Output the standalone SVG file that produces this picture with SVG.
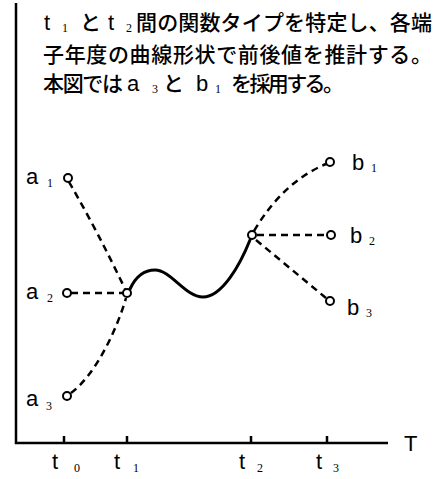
<svg xmlns="http://www.w3.org/2000/svg" width="437" height="479" viewBox="0 0 437 479">
<style>
.jp{font-family:"Noto Sans CJK JP","Noto Sans CJK SC",sans-serif;font-size:21px;font-weight:500;fill:#000}
.lt{font-family:"Liberation Sans",Arial,sans-serif;font-size:22px;fill:#000}
.sub{font-family:"Liberation Serif","Times New Roman",serif;font-size:12px;fill:#000}
.axis{stroke:#000;stroke-width:2.5;fill:none}
.dash{stroke:#000;stroke-width:2.5;fill:none;stroke-dasharray:7 5}
.solid{stroke:#000;stroke-width:3;fill:none;stroke-linecap:round}
.pt{stroke:#000;stroke-width:2;fill:#fff}
</style>
<g id="caption">
<text class="lt" x="44" y="30">t</text><text class="sub" x="62" y="32">1</text>
<text class="jp" x="80" y="30">と</text>
<text class="lt" x="108" y="30">t</text><text class="sub" x="126" y="32">2</text>
<text class="jp" x="136" y="30" textLength="296" lengthAdjust="spacing">間の関数タイプを特定し、各端</text>
<text class="jp" x="43" y="62" textLength="389" lengthAdjust="spacing">子年度の曲線形状で前後値を推計する。</text>
<text class="jp" x="43" y="91" textLength="80" lengthAdjust="spacing">本図では</text>
<text class="lt" x="127" y="91">a</text><text class="sub" x="152" y="93">3</text>
<text class="jp" x="163" y="91">と</text>
<text class="lt" x="196" y="91">b</text><text class="sub" x="215" y="93">1</text>
<text class="jp" x="231" y="91" textLength="113" lengthAdjust="spacing">を採用する。</text>
</g>
<g id="axes">
<path class="axis" d="M16,3 V443 H388"/>
<path class="axis" stroke-width="1.5" d="M64,436 V442 M127,436 V442 M251,436 V442 M327,436 V442"/>
<text class="lt" x="404" y="451" font-size="25">T</text>
<text class="lt" x="52" y="469" font-size="20">t</text><text class="sub" x="74" y="472">0</text>
<text class="lt" x="114" y="469" font-size="20">t</text><text class="sub" x="133" y="472">1</text>
<text class="lt" x="239" y="469" font-size="20">t</text><text class="sub" x="257" y="472">2</text>
<text class="lt" x="316" y="469" font-size="20">t</text><text class="sub" x="333" y="472">3</text>
</g>
<g id="connectors">
<path class="dash" d="M69,182 Q98,232 125,289"/>
<path class="dash" d="M71,293 H124"/>
<path class="dash" d="M71,393 C95,375 116,332 126,298"/>
<path class="solid" d="M130,289 C136,276 145,270 155,270 C171,270 185,297 203,297 C222,297 240,265 250,240"/>
<path class="dash" d="M254,231 Q283,182 326,164"/>
<path class="dash" d="M257,235 H326"/>
<path class="dash" d="M256,240 L326,298"/>
</g>
<g id="a1"><circle class="pt" cx="68" cy="178" r="4"/><text class="lt" x="26" y="184">a</text><text class="sub" x="47" y="187">1</text></g>
<g id="a2"><circle class="pt" cx="67" cy="293" r="4"/><text class="lt" x="26" y="299">a</text><text class="sub" x="47" y="302">2</text></g>
<g id="a3"><circle class="pt" cx="67" cy="396" r="4"/><text class="lt" x="26" y="406">a</text><text class="sub" x="46" y="410">3</text></g>
<g id="t1"><circle class="pt" cx="127" cy="293" r="4"/></g>
<g id="t2"><circle class="pt" cx="252" cy="235" r="4"/></g>
<g id="b1"><circle class="pt" cx="330" cy="162" r="4"/><text class="lt" x="352" y="170">b</text><text class="sub" x="371" y="172">1</text></g>
<g id="b2"><circle class="pt" cx="331" cy="235" r="4"/><text class="lt" x="350" y="243">b</text><text class="sub" x="369" y="245">2</text></g>
<g id="b3"><circle class="pt" cx="330" cy="301" r="4"/><text class="lt" x="347" y="315">b</text><text class="sub" x="366" y="317">3</text></g>
</svg>
